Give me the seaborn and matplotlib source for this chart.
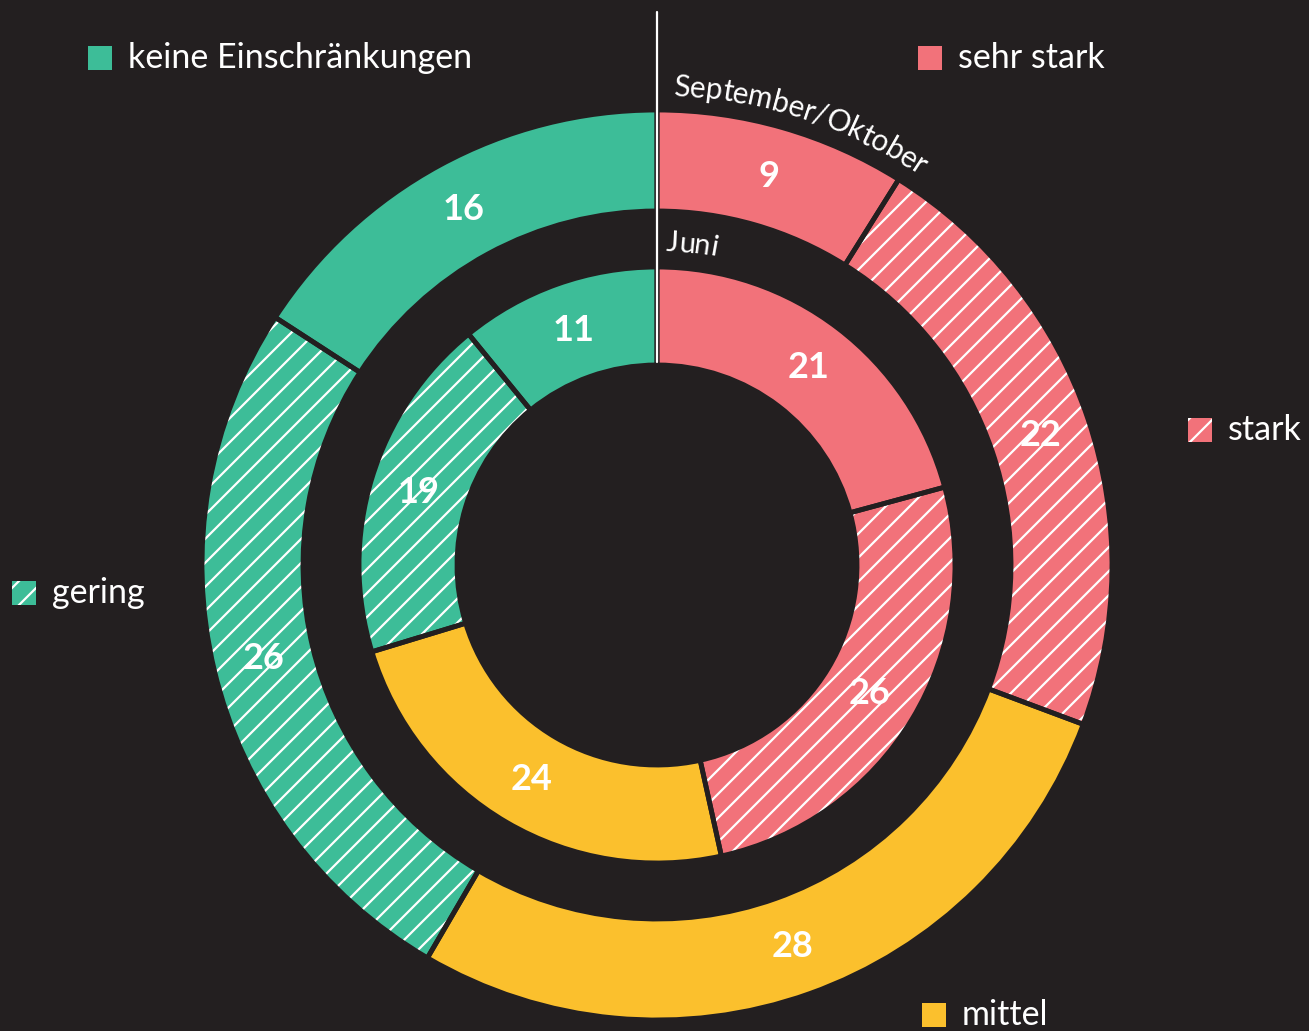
import numpy as np
import matplotlib
matplotlib.use('Agg')
import matplotlib.pyplot as plt
import seaborn as sns
from matplotlib.patches import Rectangle

# -- data --
categories = ['sehr stark', 'stark', 'mittel', 'gering', 'keine Einschränkungen']
sep_okt = [9, 22, 28, 26, 16]
juni = [21, 26, 24, 19, 11]
hatched = [False, True, False, True, False]

bg = '#231f20'
palette = ['#f2727a', '#f2727a', '#fbc02d', '#3dbd98', '#3dbd98']

# drawn at 72 dpi so the hatch spacing is tighter; k converts sizes made for 100 dpi
DPI = 72
k = 100 / DPI

sns.set_theme(style='dark', rc={'axes.facecolor': bg, 'figure.facecolor': bg})
plt.rcParams['font.family'] = ['Lato', 'DejaVu Sans']
plt.rcParams['hatch.linewidth'] = 1.6 * k

W, H = 1309, 1031
cx, cy = 657, H - 565

fig = plt.figure(figsize=(W / DPI, H / DPI), dpi=DPI)
ax = fig.add_axes([0, 0, 1, 1])
ax.set_xlim(0, W)
ax.set_ylim(0, H)
ax.set_aspect('equal')
ax.axis('off')


def ring(values, radius, width):
    wedges, _ = ax.pie(values, radius=radius, center=(cx, cy), startangle=90,
                       counterclock=False, colors=palette,
                       wedgeprops=dict(width=width, linewidth=0))
    for w, h in zip(wedges, hatched):
        if h:
            w.set_edgecolor('white')
            w.set_linewidth(0)
            w.set_hatch('/')
    # dark separators
    ax.pie(values, radius=radius, center=(cx, cy), startangle=90,
           counterclock=False, colors=['none'] * len(values),
           wedgeprops=dict(width=width, linewidth=3.5 * k, edgecolor=bg, facecolor='none'))
    # value labels
    total = sum(values)
    cum = np.cumsum([0] + values)
    rmid = radius - width / 2
    for i, v in enumerate(values):
        phi = np.deg2rad((cum[i] + v / 2) / total * 360)
        ax.text(cx + rmid * np.sin(phi), cy + rmid * np.cos(phi), str(v),
                color='white', fontsize=26 * k, fontweight='bold',
                ha='center', va='center')


ring(sep_okt, 455, 101)
ring(juni, 298, 98)
ax.set_xlim(0, W)
ax.set_ylim(0, H)

# divider line
ax.plot([cx, cx], [H - 12, H - 362], color='white', lw=1.6 * k)

renderer = fig.canvas.get_renderer()


def arc_text(s, r, start_deg, size):
    prop = matplotlib.font_manager.FontProperties(family=['Lato', 'DejaVu Sans'], size=size)
    prev = 0
    theta = np.deg2rad(start_deg)
    for i, ch in enumerate(s):
        wid, _, _ = renderer.get_text_width_height_descent(s[:i + 1], prop, ismath=False)
        cw = wid - prev
        prev = wid
        phi = theta + cw / 2 / r
        ax.text(cx + r * np.sin(phi), cy + r * np.cos(phi), ch, fontproperties=prop,
                color='white', ha='center', va='center',
                rotation=-np.rad2deg(phi), rotation_mode='anchor')
        theta += cw / r


arc_text('September/Oktober', 478, 2.0, 21.5 * k)
arc_text('Juni', 322, 1.6, 21 * k)

# legend
legend_pos = {
    'keine Einschränkungen': (88, 58),
    'sehr stark': (918, 58),
    'stark': (1188, 430),
    'gering': (12, 593),
    'mittel': (922, 1015),
}
for cat, col, h in zip(categories, palette, hatched):
    x, py = legend_pos[cat]
    rect = Rectangle((x, H - py - 12), 24, 24, facecolor=col, linewidth=0,
                     edgecolor='white' if h else col, hatch='/' if h else None)
    ax.add_patch(rect)
    ax.text(x + 40, H - py, cat, color='white', fontsize=24.5 * k, ha='left', va='center')

fig.savefig('out.png', dpi=DPI, facecolor=bg)
